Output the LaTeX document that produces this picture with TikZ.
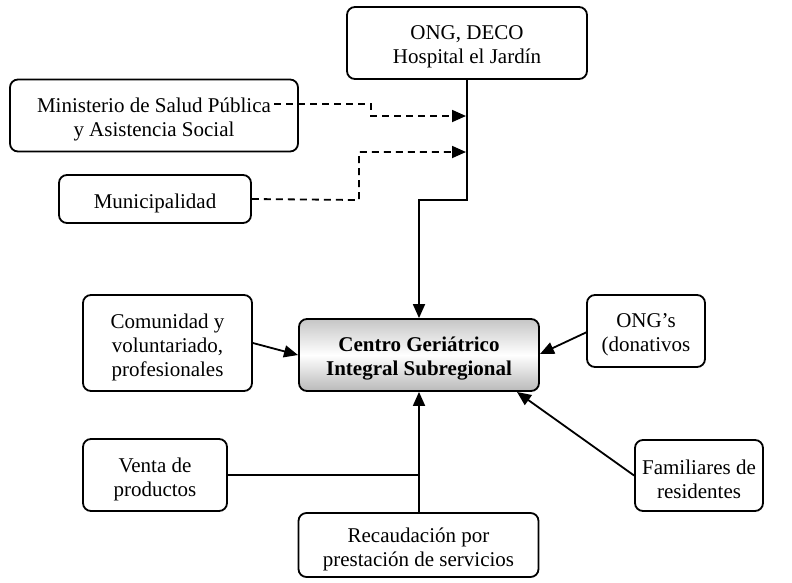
\documentclass[tikz,border=0pt]{standalone}
\usepackage{fontspec}
\setmainfont{Liberation Serif}
\usetikzlibrary{arrows.meta}
\newcommand{\bxtext}[3][]{\node[lbl,#1] (#2-t) at ([yshift=-4pt]#2.center) {#3};}
\begin{document}
\begin{tikzpicture}[x=1pt,y=-1pt,
  box/.style={draw,line width=1.8pt,rounded corners=8pt,inner sep=0pt},
  lbl/.style={align=center,inner sep=0pt,font=\fontsize{21}{24}\selectfont},
  conn/.style={line width=1.8pt},
  arr/.style={conn,-{Triangle[length=14pt,width=12pt]}},
  dashln/.style={line width=1.8pt,dash pattern=on 7pt off 5pt,-{Triangle[length=14pt,width=12pt]}}]
\useasboundingbox (0,0) rectangle (792,582);
\node[box,minimum width=240pt,minimum height=72pt] (deco) at (467,43) {};
\bxtext{deco}{ONG, DECO\\Hospital el Jardín}
\node[box,minimum width=288pt,minimum height=72pt] (min) at (154,115.5) {};
\bxtext{min}{Ministerio de Salud Pública\\y Asistencia Social}
\node[box,minimum width=192pt,minimum height=48pt] (mun) at (155,199) {};
\bxtext{mun}{Municipalidad}
\node[box,minimum width=240pt,minimum height=72pt,top color=gray!45,bottom color=gray!55,middle color=white] (cen) at (419,355) {};
\bxtext[font=\fontsize{21}{24}\selectfont\bfseries]{cen}{Centro Geriátrico\\Integral Subregional}
\node[box,minimum width=169pt,minimum height=96pt] (com) at (167.5,343) {};
\bxtext{com}{Comunidad y\\voluntariado,\\profesionales}
\node[box,minimum width=118pt,minimum height=72pt] (ongs) at (646,331) {};
\bxtext{ongs}{ONG’s\\(donativos}
\node[box,minimum width=128pt,minimum height=71pt] (fam) at (699,475.5) {};
\bxtext{fam}{Familiares de\\residentes}
\node[box,minimum width=144pt,minimum height=72pt] (ven) at (155,475) {};
\bxtext{ven}{Venta de\\productos}
\node[box,minimum width=240pt,minimum height=64pt] (rec) at (418.5,545) {};
\bxtext{rec}{Recaudación por\\prestación de servicios}
\coordinate (minend) at (274,104);
\coordinate (jv) at (419,475);
\coordinate (t1) at (466,116);
\coordinate (t2) at (466,152);
% connectors
\draw[arr] (deco.south) -- (467,200) -- (419,200) -- (cen.north);
\draw[dashln] (minend) -- (371,104) -- (371,116) -- (t1);
\draw[dashln] (mun.east) -- (359,200) -- (359,152) -- (t2);
\draw[arr] (com.east) -- (298,355);
\draw[arr] (587,332) -- (540,354);
\draw[arr] (fam.west) -- (517,392);
\draw[conn] (ven.east) -- (jv);
\draw[arr] (rec.north -| jv) -- (jv |- cen.south);
\end{tikzpicture}
\end{document}
